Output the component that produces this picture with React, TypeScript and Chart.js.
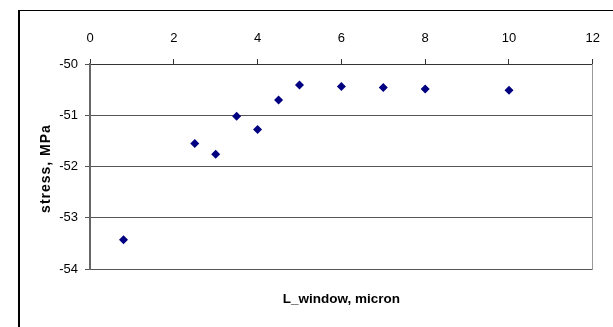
import React, { useEffect, useRef } from "react";
import { Chart, registerables } from "chart.js";

Chart.register(...registerables);

const xValues = [0.8, 2.5, 3, 3.5, 4, 4.5, 5, 6, 7, 8, 10];
const stressValues = [-53.43, -51.55, -51.76, -51.02, -51.28, -50.7, -50.41, -50.44, -50.46, -50.49, -50.51];
const xTitle = "L_window, micron";
const yTitle = "stress, MPa";

const titlePlugin = {
  id: "titles",
  afterDraw(chart: any) {
    const ctx = chart.ctx;
    const a = chart.chartArea;
    ctx.save();
    ctx.fillStyle = "#000000";
    ctx.textAlign = "center";
    ctx.textBaseline = "middle";
    ctx.font = "bold 13.5px 'Liberation Sans', Arial, sans-serif";
    ctx.fillText(xTitle, (a.left + a.right) / 2, 299);
    ctx.translate(46, (a.top + a.bottom) / 2 + 2);
    ctx.rotate(-Math.PI / 2);
    ctx.font = "bold 14px 'Liberation Sans', Arial, sans-serif";
    try { (ctx as any).letterSpacing = "1px"; } catch (e) {}
    ctx.fillText(yTitle, 0, 0);
    ctx.restore();
  },
};

export default function App() {
  const ref = useRef<HTMLCanvasElement | null>(null);
  useEffect(() => {
    if (!ref.current) return;
    const tickFont = { family: "'Liberation Sans', Arial, sans-serif", size: 13 };
    const chart = new Chart(ref.current, {
      type: "scatter",
      data: {
        datasets: [
          {
            data: xValues.map((x, i) => ({ x, y: stressValues[i] })),
            pointStyle: "rectRot",
            pointRadius: 4.5,
            pointHoverRadius: 4.5,
            backgroundColor: "#000080",
            borderColor: "#000080",
            borderWidth: 0,
          },
        ],
      },
      options: {
        responsive: false,
        animation: false,
        events: [],
        layout: { padding: { left: 0, right: 20, top: 10, bottom: 58 } },
        plugins: { legend: { display: false }, tooltip: { enabled: false } },
        scales: {
          x: {
            type: "linear",
            position: "top",
            min: 0,
            max: 12,
            ticks: { stepSize: 2, font: tickFont, color: "#000000", padding: 13 },
            grid: { drawOnChartArea: false, drawTicks: true, tickLength: 5, color: "#333333" },
            border: { display: true, color: "#333333", width: 1 },
            afterFit: (s: any) => { s.height = 54; },
          },
          y: {
            type: "linear",
            min: -54,
            max: -50,
            ticks: { stepSize: 1, font: tickFont, color: "#000000", padding: 7 },
            grid: { color: "#555555", tickLength: 5, lineWidth: 1 },
            border: { display: true, color: "#666666", width: 2 },
            afterFit: (s: any) => { s.width = 90; },
          },
          yRight: {
            type: "linear",
            position: "right",
            min: -54,
            max: -50,
            ticks: { display: false },
            grid: { display: false },
            border: { display: true, color: "#999999", width: 1 },
            afterFit: (s: any) => { s.width = 0; },
          },
        },
      },
      plugins: [titlePlugin],
    });
    return () => chart.destroy();
  }, []);
  return (
    <div style={{ position: "absolute", left: 0, top: 0, width: 613, height: 327, background: "#fff", overflow: "hidden" }}>
      <canvas ref={ref} width={613} height={327} style={{ display: "block" }} />
      <div
        style={{
          position: "absolute",
          left: 18,
          top: 10,
          width: 593,
          height: 340,
          borderLeft: "2px solid #000",
          borderTop: "1px solid #000",
          pointerEvents: "none",
        }}
      />
    </div>
  );
}
